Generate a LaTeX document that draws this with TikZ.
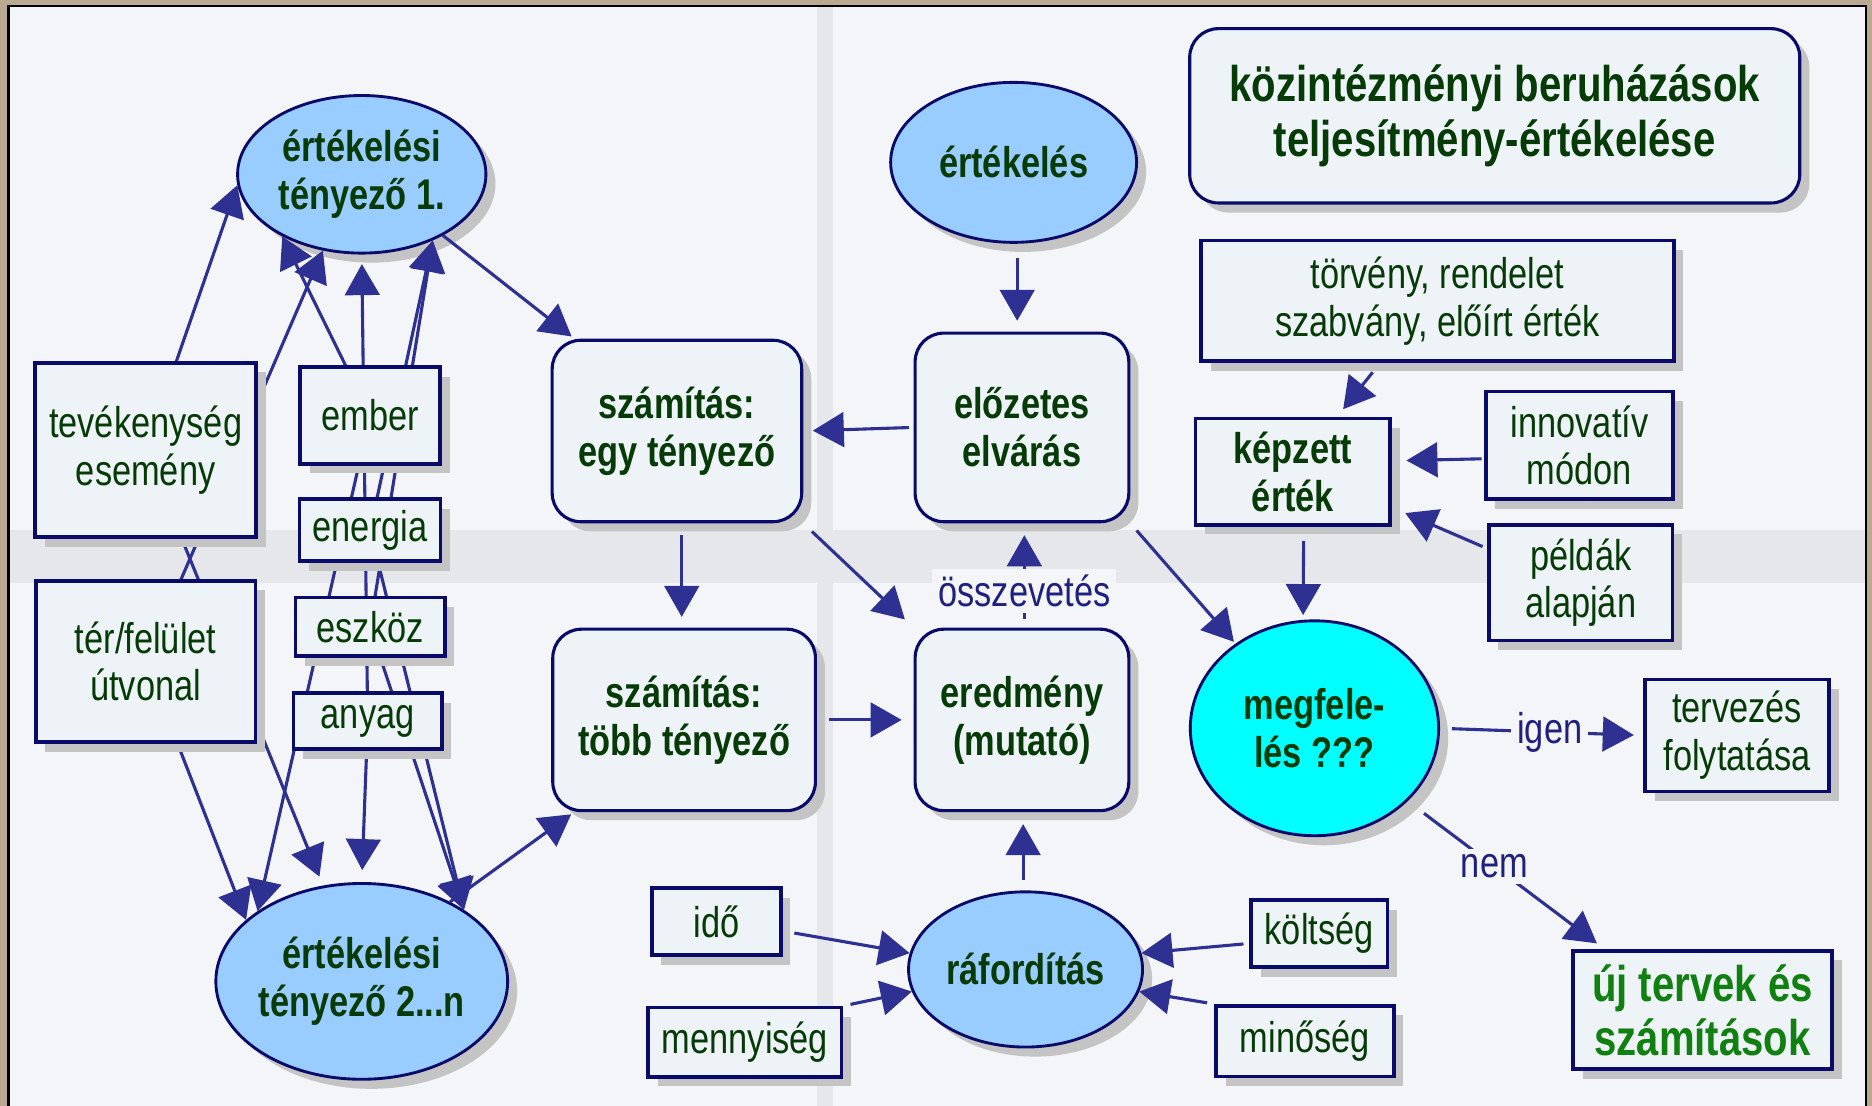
\documentclass[tikz,border=0pt]{standalone}
\usepackage{fontspec}
\setmainfont{Liberation Sans}[FakeStretch=0.8]
\usetikzlibrary{shapes.geometric,arrows.meta,shadows}
\definecolor{navyb}{HTML}{0A0A6A}
\definecolor{arrc}{HTML}{2E3192}
\definecolor{dgreen}{HTML}{063A06}
\definecolor{ggreen}{HTML}{108010}
\definecolor{labc}{HTML}{202080}
\definecolor{boxf}{HTML}{EEF3F8}
\definecolor{lblue}{HTML}{99CCFF}
\definecolor{cyanf}{HTML}{00FFFF}
\definecolor{bgc}{HTML}{F3F5F8}
\definecolor{bandc}{HTML}{E6E7EA}
\definecolor{shadc}{HTML}{C4C4C4}
\definecolor{framec}{HTML}{B8A990}
\pgfdeclarelayer{back}
\pgfdeclarelayer{ells}
\pgfdeclarelayer{lines}
\pgfsetlayers{back,ells,lines,main}
\begin{document}
\begin{tikzpicture}[x=1pt,y=1pt,
 dshadow/.style={drop shadow={shadow xshift=8pt,shadow yshift=-8pt,fill=shadc,opacity=1}},
 sqbox/.style={rectangle,draw=navyb,line width=3pt,fill=boxf,text=dgreen,
   font=\fontsize{36}{40}\selectfont,align=center,inner sep=0pt,dshadow},
 rbox/.style={sqbox,rounded corners=24pt,line width=2.6pt,font=\bfseries\fontsize{36}{40}\selectfont},
 ell/.style={ellipse,draw=navyb,line width=2.4pt,fill=lblue,text=dgreen,
   font=\bfseries\fontsize{36}{40}\selectfont,align=center,inner sep=0pt,dshadow},
 arr/.style={draw=arrc,line width=2.6pt,-{Triangle[length=26pt,width=29pt]}},
 lab/.style={text=labc,font=\fontsize{36}{40}\selectfont,fill=bgc,inner sep=5pt}]
\useasboundingbox (0,0) rectangle (1568,-926);
\begin{pgfonlayer}{back}
 \fill[framec] (0,0) rectangle (1568,-926);
 \fill[bgc] (7,-5) rectangle (1563,-926);
 \fill[bandc] (684,-5) rectangle (698,-926);
 \fill[bandc] (7,-444) rectangle (1563,-488);
 \draw[black,line width=2pt] (7,-926) -- (7,-5) -- (1563,-5) -- (1563,-926);
\end{pgfonlayer}
\begin{pgfonlayer}{ells}
 \node[ell,minimum width=208pt,minimum height=132pt] (E1) at (303,-146) {értékelési\\tényező 1.};
 \node[ell,minimum width=242pt,minimum height=164pt] (E2) at (303,-822) {értékelési\\tényező 2...n};
 \node[ell,minimum width=206pt,minimum height=134pt] (ert) at (849,-136) {értékelés};
 \node[ell,minimum width=196pt,minimum height=130pt] (raf) at (859,-812) {ráfordítás};
 \node[ell,fill=cyanf,minimum width=208pt,minimum height=180pt] (megf) at (1101,-610) {megfele-\\lés ???};
\end{pgfonlayer}
% boxes
\node[rbox,font=\bfseries\fontsize{42}{46}\selectfont,minimum width=511pt,minimum height=146pt] (title) at (1252,-97) {közintézményi beruházások\\teljesítmény-értékelése};
\node[rbox,minimum width=209pt,minimum height=152pt] (szegy) at (567,-361) {számítás:\\egy tényező};
\node[rbox,minimum width=179pt,minimum height=158pt] (eloz) at (856,-358) {előzetes\\elvárás};
\node[rbox,minimum width=220pt,minimum height=152pt] (sztobb) at (573,-603) {számítás:\\több tényező};
\node[rbox,minimum width=179pt,minimum height=152pt] (ered) at (856,-603) {eredmény\\(mutató)};
\node[sqbox,minimum width=185pt,minimum height=146pt] (tev) at (122,-377) {tevékenység\\esemény};
\node[sqbox,minimum width=117pt,minimum height=81pt] (ember) at (310,-348) {ember};
\node[sqbox,minimum width=118pt,minimum height=52pt] (energia) at (310,-444) {energia};
\node[sqbox,minimum width=184pt,minimum height=135pt] (ter) at (122,-554) {tér/felület\\útvonal};
\node[sqbox,minimum width=125pt,minimum height=49pt] (eszkoz) at (310,-525) {eszköz};
\node[sqbox,minimum width=124pt,minimum height=47pt] (anyag) at (308,-604) {anyag};
\node[sqbox,minimum width=396pt,minimum height=101pt] (torveny) at (1204,-252) {törvény, rendelet\\szabvány, előírt érték};
\node[sqbox,font=\bfseries\fontsize{36}{40}\selectfont,minimum width=163pt,minimum height=89pt] (kepzett) at (1083,-395) {képzett\\érték};
\node[sqbox,minimum width=157pt,minimum height=90pt] (innov) at (1323,-373) {innovatív\\módon};
\node[sqbox,minimum width=154pt,minimum height=97pt] (peldak) at (1324,-488) {példák\\alapján};
\node[sqbox,minimum width=154pt,minimum height=94pt] (terv) at (1455,-616) {tervezés\\folytatása};
\node[sqbox,text=ggreen,font=\bfseries\fontsize{42}{45}\selectfont,minimum width=217pt,minimum height=99pt] (uj) at (1426,-846) {új tervek és\\számítások};
\node[sqbox,minimum width=108pt,minimum height=56pt] (ido) at (600,-772) {idő};
\node[sqbox,minimum width=162pt,minimum height=58pt] (menny) at (624,-873) {mennyiség};
\node[sqbox,minimum width=114pt,minimum height=56pt] (koltseg) at (1105,-782) {költség};
\node[sqbox,minimum width=149pt,minimum height=59pt] (minoseg) at (1093,-872) {minőség};
% connectors
\begin{pgfonlayer}{lines}
 \draw[arr] (tev.center) -- (E1.185);
 \draw[arr] (ember.center) -- (E1.-142);
 \draw[arr] (ter.center) -- (E1.-117);
 \draw[arr,shorten >=8pt] (anyag.center) -- (E1.-90);
 \draw[arr] (energia.center) -- (E1.-43);
 \draw[arr] (eszkoz.center) -- (E1.-43);
 \draw[arr] (ter.center) -- (E2.152);
 \draw[arr] (ember.center) -- (E2.146);
 \draw[arr,shorten >=8pt] (tev.center) -- (E2.112);
 \draw[arr,shorten >=10pt] (anyag.center) -- (E2.90);
 \draw[arr] (energia.center) -- (E2.35);
 \draw[arr] (eszkoz.center) -- (E2.35);
 \draw[arr,shorten >=3pt] (E1.-37) -- (szegy.138);
 \draw[arr,shorten >=3pt] (E2.42) -- (sztobb.-140);
 \draw[arr,shorten <=4pt,shorten >=8pt] (eloz.west) -- (szegy.east);
 \draw[arr,shorten <=10pt,shorten >=9pt] ([xshift=4pt]szegy.south) -- ([xshift=-2pt]sztobb.north);
 \draw[arr,shorten <=10pt,shorten >=10pt] (szegy.south east) -- (ered.north west);
 \draw[arr,shorten <=10pt,shorten >=10pt] (sztobb.east) -- (ered.west);
 \draw[arr,shorten <=12pt,shorten >=9pt] ([xshift=3pt]ert.south) -- ([xshift=-4pt]eloz.north);
 \draw[arr,shorten <=9pt,shorten >=10pt] ([xshift=-2pt]raf.north) -- ([xshift=1pt]ered.south);
 \draw[arr,shorten <=7pt,shorten >=10pt] ([xshift=2pt]ered.north) -- ([xshift=2pt]eloz.south) node[lab,pos=0.35] (osszev) {összevetés};
 \draw[arr,shorten <=8pt,shorten >=2pt] (eloz.south east) -- (megf.133);
 \draw[arr,shorten <=12pt,shorten >=4pt] ([xshift=9pt]kepzett.south) -- (megf.96);
 \draw[arr,shorten <=10pt,shorten >=8pt] ([xshift=-48pt]torveny.south) -- ([xshift=37pt]kepzett.north);
 \draw[arr,shorten <=2pt,shorten >=12pt] (innov.-172) -- ([yshift=9pt]kepzett.east);
 \draw[arr,shorten <=4pt,shorten >=12pt] (peldak.160) -- ([yshift=-30pt]kepzett.east);
 \draw[arr,shorten <=10pt,shorten >=8pt] (megf.east) -- (terv.west) node[lab,pos=0.54] (igen) {igen};
 \draw[arr,shorten <=17pt,shorten >=8pt] (megf.-38) -- ([xshift=-82pt]uj.north) node[lab,pos=0.44] (nem) {nem};
 \draw[arr,shorten <=10pt] (ido.-8) -- (raf.172);
 \draw[arr,shorten <=6pt] (menny.north east) -- (raf.-169);
 \draw[arr,shorten <=5pt] (koltseg.-172) -- (raf.8);
 \draw[arr,shorten <=6pt] (minoseg.north west) -- (raf.-11);
\end{pgfonlayer}
\end{tikzpicture}
\end{document}
